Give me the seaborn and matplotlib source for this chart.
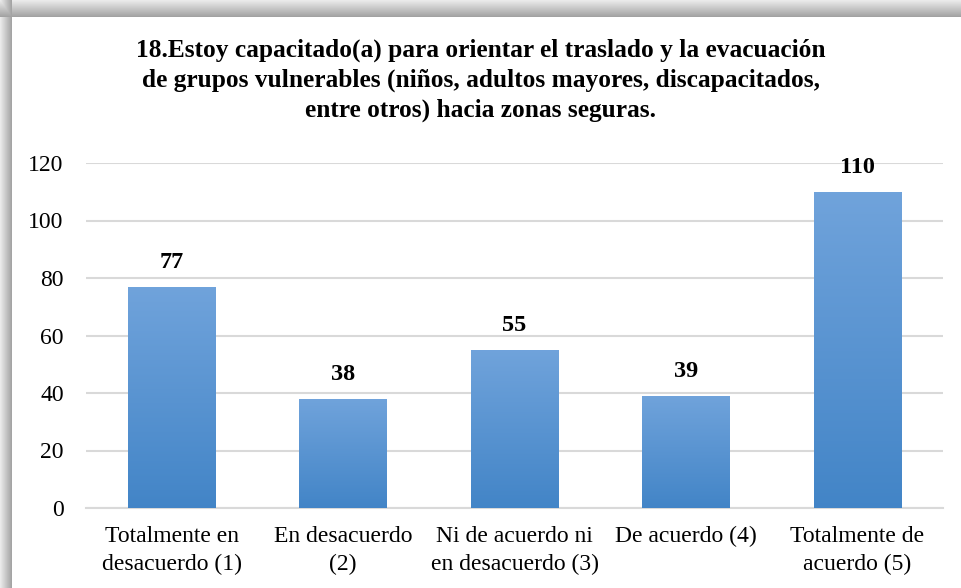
import numpy as np
import matplotlib
matplotlib.use("Agg")
import matplotlib.pyplot as plt
import seaborn as sns
import pandas as pd

categories = [
    "Totalmente en\ndesacuerdo (1)",
    "En desacuerdo\n(2)",
    "Ni de acuerdo ni\nen desacuerdo (3)",
    "De acuerdo (4)",
    "Totalmente de\nacuerdo (5)",
]
counts = [77, 38, 55, 39, 110]
y_ticks = [0, 20, 40, 60, 80, 100, 120]

title = ("18.Estoy capacitado(a) para orientar el traslado y la evacuación\n"
         "de grupos vulnerables (niños, adultos mayores, discapacitados,\n"
         "entre otros) hacia zonas seguras.")

sns.set_theme(style="white")
plt.rcParams["font.family"] = "serif"
plt.rcParams["font.serif"] = ["Liberation Serif", "DejaVu Serif"]
plt.rcParams["text.color"] = "black"

df = pd.DataFrame({"categoria": categories, "n": counts})

fig = plt.figure(figsize=(9.61, 5.88), dpi=100)
fig.patch.set_facecolor("white")

# shadowed frame on the left and top edges
bg = fig.add_axes([0, 0, 1, 1], zorder=-10)
W, H = 961, 588
xs = np.arange(W)
ys = np.arange(H)
left = np.clip((12 - xs) / 12.0, 0, 1)
top = np.clip((17 - ys) / 17.0, 0, 1)
lv = np.where(xs < 12, 0.62 + 0.3 * left, 1.0)
tv = np.where(ys < 17, 0.62 + 0.3 * top, 1.0)
shade = np.minimum(lv[None, :], tv[:, None])
bg.imshow(np.dstack([shade] * 3), aspect="auto", extent=[0, 1, 0, 1])
bg.set_axis_off()

ax = fig.add_axes([86 / W, 1 - 508 / H, (943 - 86) / W, (508 - 163) / H])
sns.barplot(data=df, x="categoria", y="n", ax=ax, color="#5b9bd5",
            width=0.51, saturation=1, zorder=3)

# vertical gradient inside each bar
grad = np.linspace(0, 1, 256)[:, None]
c_top = np.array([0.44, 0.64, 0.86])
c_bot = np.array([0.26, 0.52, 0.78])
img = c_bot[None, None, :] * grad[..., None] + c_top[None, None, :] * (1 - grad[..., None])
for p in ax.patches:
    x0, y0 = p.get_x(), p.get_y()
    w, h = p.get_width(), p.get_height()
    im = ax.imshow(img, extent=[x0, x0 + w, y0, y0 + h], aspect="auto",
                   zorder=4, origin="upper")
    im.set_clip_path(p)
    p.set_edgecolor("none")

for i, v in enumerate(counts):
    ax.annotate(str(v), (i, v), xytext=(0, 10), textcoords="offset points",
                ha="center", va="bottom", fontsize=17.5, fontweight="bold",
                color="black", zorder=6)

ax.set_ylim(0, 120)
ax.set_xlim(-0.5, len(categories) - 0.5)
ax.set_yticks(y_ticks)
ax.yaxis.grid(True, color="#d9d9d9", linewidth=1.5, zorder=0)
ax.set_axisbelow(True)
for s in ["top", "right", "left"]:
    ax.spines[s].set_visible(False)
ax.spines["bottom"].set_color("#d9d9d9")
ax.spines["bottom"].set_linewidth(1.5)
ax.tick_params(axis="y", length=0, pad=16, labelsize=17, colors="black")
ax.tick_params(axis="x", length=0, pad=13, labelsize=17, colors="black")
for lbl in ax.get_xticklabels():
    lbl.set_linespacing(1.45)
ax.set_xlabel("")
ax.set_ylabel("")
ax.set_facecolor("none")

fig.text(0.5, 1 - 39 / H, title, ha="center", va="top", fontsize=18.3,
         fontweight="bold", linespacing=1.36, color="black")

fig.savefig("out.png", dpi=100)
